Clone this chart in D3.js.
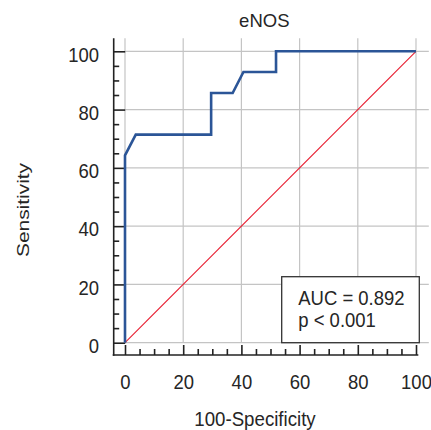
<!DOCTYPE html>
<html>
<head>
<meta charset="utf-8">
<script src="https://cdn.jsdelivr.net/npm/d3@7"></script>
<style>
  body { margin: 0; background: #fff; }
  svg { display: block; font-family: "Liberation Sans", Arial, sans-serif; }
</style>
</head>
<body>
<svg id="chart" width="431" height="430"></svg>
<script>
// ROC curve points (100-Specificity, Sensitivity)
const falsePos = [0, 0, 3.7, 29.6, 29.6, 37.0, 40.7, 51.9, 51.9, 100];
const truePos  = [0, 64.3, 71.4, 71.4, 85.7, 85.7, 92.9, 92.9, 100, 100];
const diagX = [0, 100];
const diagY = [0, 100];
const majorTicks = [0, 20, 40, 60, 80, 100];
const minorTicks = d3.range(0, 101, 5).filter(v => v % 20 !== 0);
const title = "eNOS";
const xTitle = "100-Specificity";
const yTitle = "Sensitivity";
const legendLines = ["AUC = 0.892", "p < 0.001"];

const svg = d3.select("#chart");
const textColor = "#262626";
const labelSize = "21px";
const squeeze = "scale(0.88,1)";

const x = d3.scaleLinear().domain([0, 100]).range([125, 416]);
const y = d3.scaleLinear().domain([0, 100]).range([342.7, 51.3]);

const yAxisX = 113.7;
const xAxisY = 355;

// grid
const grid = svg.append("g").attr("class", "grid")
    .attr("stroke", "#c4c4c4").attr("stroke-width", 1.2);
grid.selectAll("line.v")
    .data(majorTicks)
    .enter().append("line")
      .attr("class", "v")
      .attr("x1", d => x(d)).attr("x2", d => x(d))
      .attr("y1", y(0)).attr("y2", y(104.5));
grid.selectAll("line.h")
    .data(majorTicks)
    .enter().append("line")
      .attr("class", "h")
      .attr("y1", d => y(d)).attr("y2", d => y(d))
      .attr("x1", x(0)).attr("x2", x(104.4));

// x axis
const xAxis = svg.append("g")
    .attr("transform", `translate(0,${xAxisY})`)
    .call(d3.axisBottom(x).tickValues(majorTicks).tickSizeInner(-10).tickSizeOuter(0));
svg.append("g")
    .attr("transform", `translate(0,${xAxisY})`)
    .call(d3.axisBottom(x).tickValues(minorTicks).tickSizeInner(-6).tickSizeOuter(0).tickFormat(""))
    .call(g => g.select(".domain").remove());

xAxis.select(".domain").remove();
xAxis.append("line")
    .attr("x1", yAxisX - 1).attr("x2", x(100.8))
    .attr("stroke", "#222").attr("stroke-width", 1.6);
xAxis.selectAll(".tick text")
    .attr("y", 0).attr("dy", 0)
    .attr("transform", `translate(0,34.3) ${squeeze}`)
    .style("font-size", labelSize)
    .attr("fill", textColor);

// y axis
const yAxis = svg.append("g")
    .attr("transform", `translate(${yAxisX},0)`)
    .call(d3.axisLeft(y).tickValues(majorTicks).tickSizeInner(-11.5).tickSizeOuter(0));
svg.append("g")
    .attr("transform", `translate(${yAxisX},0)`)
    .call(d3.axisLeft(y).tickValues(minorTicks).tickSizeInner(-5.5).tickSizeOuter(0).tickFormat(""))
    .call(g => g.select(".domain").remove());

yAxis.select(".domain").remove();
yAxis.append("line")
    .attr("y1", y(104.5)).attr("y2", xAxisY + 0.8)
    .attr("stroke", "#222").attr("stroke-width", 1.6);
yAxis.selectAll(".tick text")
    .attr("x", 0).attr("dy", 0)
    .attr("transform", `translate(-14.7,9.7) ${squeeze}`)
    .style("font-size", labelSize)
    .attr("fill", textColor);

svg.selectAll(".tick line").attr("stroke", "#222").attr("stroke-width", 1.6);

// diagonal reference
svg.append("path")
    .datum(d3.zip(diagX, diagY))
    .attr("d", d3.line().x(d => x(d[0])).y(d => y(d[1])))
    .attr("fill", "none")
    .attr("stroke", "#e8192c")
    .attr("stroke-width", 1.1);

// ROC curve
svg.append("path")
    .datum(d3.zip(falsePos, truePos))
    .attr("d", d3.line().x(d => x(d[0])).y(d => y(d[1])))
    .attr("fill", "none")
    .attr("stroke", "#2b5597")
    .attr("stroke-width", 2.6)
    .attr("stroke-linejoin", "miter");

// legend box
const legend = svg.append("g");
legend.append("rect")
    .attr("x", 281.7).attr("y", 276.7)
    .attr("width", 137.6).attr("height", 66)
    .attr("fill", "#fff")
    .attr("stroke", "#333")
    .attr("stroke-width", 1.3);
legend.selectAll("text")
    .data(legendLines)
    .enter().append("text")
      .attr("transform", (d, i) => `translate(298.3,${305 + i * 21.7}) ${squeeze}`)
      .style("font-size", labelSize)
      .attr("fill", textColor)
      .text(d => d);

// titles
svg.append("text")
    .attr("x", 264.3).attr("y", 26.7)
    .attr("text-anchor", "middle")
    .style("font-size", "18.5px")
    .attr("fill", textColor)
    .text(title);

svg.append("text")
    .attr("transform", "translate(255,425.7) scale(0.89,1)")
    .attr("text-anchor", "middle")
    .style("font-size", labelSize)
    .attr("fill", textColor)
    .text(xTitle);

svg.append("text")
    .attr("transform", "translate(28.5,210) rotate(-90)")
    .attr("text-anchor", "middle")
    .attr("textLength", 94)
    .attr("lengthAdjust", "spacingAndGlyphs")
    .style("font-size", "16.5px")
    .attr("fill", textColor)
    .text(yTitle);
</script>
</body>
</html>
